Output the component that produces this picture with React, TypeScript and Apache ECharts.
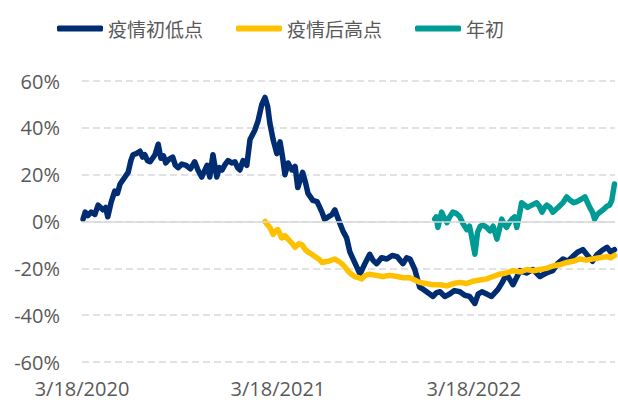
import React, { useEffect, useRef } from "react";
import * as echarts from "echarts";

// x values are days since 3/18/2020
const START_DATE = Date.UTC(2020, 2, 18);

const navyDays = [2, 6, 11, 17, 24, 30, 39, 44, 48, 54, 61, 66, 71, 80, 86, 91, 95, 101, 108, 113, 117, 122, 127, 136, 142, 147, 152, 156, 162, 169, 174, 179, 186, 194, 202, 210, 216, 223, 228, 233, 238, 244, 251, 256, 261, 267, 272, 279, 285, 290, 294, 300, 307, 313, 322, 328, 335, 341, 346, 350, 356, 363, 369, 374, 378, 384, 391, 397, 402, 411, 416, 421, 430, 438, 447, 452, 459, 466, 471, 480, 486, 493, 499, 505, 512, 518, 527, 536, 542, 549, 558, 568, 578, 587, 598, 605, 611, 620, 629, 636, 642, 654, 660, 667, 676, 685, 694, 704, 713, 722, 732, 738, 745, 754, 763, 775, 783, 791, 803, 816, 828, 840, 853, 865, 877, 886, 896, 905, 914, 924, 933, 942, 951, 960, 968, 978, 985, 992];
const navyValues = [1, 4, 2.5, 4, 3, 7, 5, 6, 2, 8, 13, 12, 16, 19, 21, 26, 28.5, 29, 30, 27.5, 28.5, 26, 25.5, 28.5, 33, 27, 28, 25, 26.5, 27.5, 24, 23, 24.5, 24, 22.5, 25.5, 22, 19, 21.5, 24, 19, 28.5, 19, 23, 22, 24.5, 26, 25, 25.5, 23, 22, 26, 24, 35, 39, 43, 50, 53, 49, 42, 35, 29, 34, 27, 20, 25, 22, 23.5, 14.5, 21, 17, 12, 9, 8.5, 4, 1, 2, 3, 5, -0.5, -4, -7, -13, -16, -19.5, -22.5, -18, -14, -16.5, -18, -15.5, -16, -14.5, -15, -18, -15.5, -16, -20.5, -28, -29, -30, -32, -30.5, -30, -32, -31, -29.5, -30, -31.5, -32, -35, -31, -30, -31, -32, -29, -26, -22.5, -27, -21, -22, -20.5, -23.5, -22, -21, -18, -16, -17, -15, -13, -12, -14.5, -17, -14, -12.5, -11, -13, -12];

const yellowDays = [341, 346, 350, 356, 361, 365, 372, 378, 384, 390, 397, 404, 410, 416, 421, 428, 434, 441, 447, 458, 465, 471, 478, 484, 490, 495, 502, 508, 515, 521, 528, 536, 548, 560, 573, 587, 599, 611, 620, 629, 641, 654, 667, 680, 692, 704, 716, 728, 741, 754, 766, 778, 790, 803, 816, 829, 841, 853, 865, 877, 890, 903, 915, 927, 939, 951, 964, 978, 985, 992];
const yellowValues = [0, -1.5, -2.5, -5.5, -4, -3.5, -7, -6, -7.5, -9, -11, -9.5, -10, -12, -13, -14, -15, -16, -17.5, -17, -16.5, -16, -17, -18, -19.5, -21, -22.5, -23.5, -24, -24.5, -23, -22.5, -23, -23.5, -23, -23.5, -24, -24, -25, -26, -26.5, -27, -27, -27.5, -26.5, -26, -26.5, -25.5, -25, -24.5, -23.5, -22.5, -22, -21, -21.5, -20.5, -21, -20.5, -20, -19, -18.5, -17.5, -17, -16, -16.5, -16, -15.5, -15, -15.5, -14.5];

const tealDays = [657, 660, 663, 667, 670, 675, 680, 685, 691, 697, 704, 710, 717, 722, 726, 732, 737, 742, 747, 754, 760, 766, 773, 778, 782, 786, 791, 796, 801, 806, 810, 815, 819, 825, 830, 838, 847, 852, 857, 862, 866, 872, 877, 887, 896, 903, 910, 916, 922, 930, 937, 942, 946, 951, 955, 960, 965, 971, 978, 983, 987, 992];
const tealValues = [1, 2, -2.5, 1, 4, 1.5, -0.5, 2, 4, 3.5, 2, -1, -3.5, -2, -6.5, -14, -4.5, -2, -1.5, -2.5, -4, -2, -7.5, -3, 1, -1, -2.5, -0.5, 1, 2, -2.5, 3, 8, 7, 6, 7, 8, 6.5, 4, 6, 7, 6, 4, 6, 8, 10.5, 9, 8, 8.5, 9.5, 10.5, 8, 6, 4, 1, 3, 4, 5, 6.5, 7, 9, 16];

const seriesNames = ["疫情初低点", "疫情后高点", "年初"];
const seriesColors = ["#002D72", "#FFC000", "#009B95"];

const zip = (d: number[], v: number[]) => d.map((x, i) => [x, v[i]]);

function fmtDate(day: number) {
  const dt = new Date(START_DATE + Math.round(day) * 86400000);
  return `${dt.getUTCMonth() + 1}/${dt.getUTCDate()}/${dt.getUTCFullYear()}`;
}

export default function App() {
  const ref = useRef<HTMLDivElement>(null);
  useEffect(() => {
    if (!ref.current) return;
    const chart = echarts.init(ref.current, null, { renderer: "svg" });
    const lineSeries = (name: string, color: string, data: number[][]) => ({
      name,
      type: "line",
      data,
      showSymbol: false,
      symbol: "none",
      lineStyle: { color, width: 5.5, join: "round", cap: "round" },
      itemStyle: { color },
    });
    chart.setOption({
      animation: false,
      legend: {
        left: 52,
        top: 14,
        itemWidth: 46,
        itemHeight: 6,
        itemGap: 33,
        icon: "roundRect",
        textStyle: {
          fontFamily: "Noto Sans CJK SC",
          fontSize: 19,
          color: "#595959",
        },
        data: seriesNames,
      },
      grid: { left: 82, right: 3, top: 81, bottom: 41 },
      xAxis: {
        type: "value",
        min: 0,
        max: 993,
        interval: 365,
        axisLine: { show: false },
        axisTick: { show: false },
        splitLine: { show: false },
        axisLabel: {
          showMaxLabel: false,
          margin: 16,
          fontFamily: "Open Sans",
          fontSize: 20,
          color: "#595959",
          formatter: (v: number) => fmtDate(v),
        },
      },
      yAxis: {
        type: "value",
        min: -60,
        max: 60,
        interval: 20,
        axisLine: { show: false },
        axisTick: { show: false },
        splitLine: {
          lineStyle: { color: "#D9D9D9", width: 1.5, type: [7, 4] },
        },
        axisLabel: {
          margin: 22,
          fontFamily: "Open Sans",
          fontSize: 20,
          color: "#595959",
          formatter: (v: number) => `${v}%`,
        },
      },
      series: [
        {
          name: "zero",
          type: "line",
          data: [],
          silent: true,
          markLine: {
            silent: true,
            symbol: "none",
            label: { show: false },
            lineStyle: { color: "#D9D9D9", width: 1.5, type: "solid" },
            data: [{ yAxis: 0 }],
          },
        },
        lineSeries(seriesNames[0], seriesColors[0], zip(navyDays, navyValues)),
        lineSeries(seriesNames[1], seriesColors[1], zip(yellowDays, yellowValues)),
        lineSeries(seriesNames[2], seriesColors[2], zip(tealDays, tealValues)),
      ],
    });
    return () => chart.dispose();
  }, []);
  return <div ref={ref} style={{ width: 618, height: 403, position: "absolute", left: 0, top: 0 }} />;
}
